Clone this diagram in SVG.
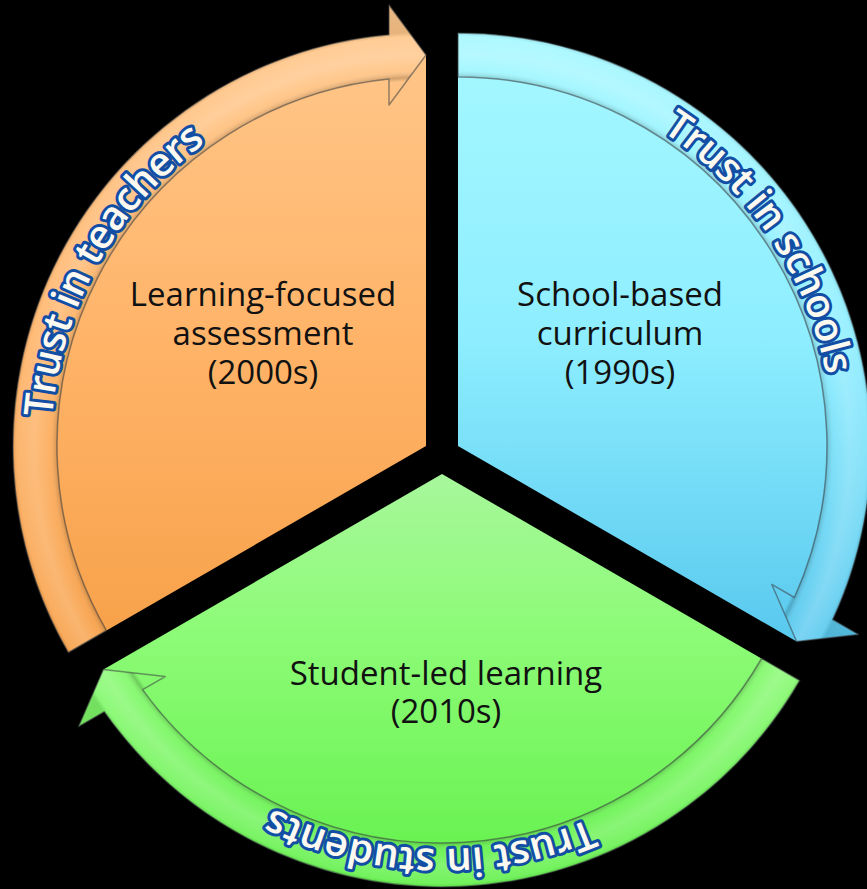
<svg xmlns="http://www.w3.org/2000/svg" xmlns:xlink="http://www.w3.org/1999/xlink" width="867" height="889" viewBox="0 0 867 889">
  <style>
    .label { font-family: "Open Sans", "Noto Sans", "Liberation Sans", sans-serif; font-size: 33px; fill: #111111; text-anchor: middle; }
    .arc-label { font-family: "Open Sans", "Noto Sans", "Liberation Sans", sans-serif; font-size: 40px; font-weight: 600; fill: #fbf9f0; stroke: #124ea3; stroke-width: 6; stroke-linejoin: round; paint-order: stroke; text-anchor: middle; }
    .bevel { stroke: #3c4044; stroke-opacity: 0.55; stroke-width: 1.5; stroke-linejoin: round; }
  </style>
  <defs>
    <linearGradient id="gO" gradientUnits="userSpaceOnUse" x1="0" y1="5" x2="0" y2="660">
      <stop offset="0" stop-color="#ffc98e"/>
      <stop offset="0.5" stop-color="#ffb469"/>
      <stop offset="1" stop-color="#f7a048"/>
    </linearGradient>
    <linearGradient id="gB" gradientUnits="userSpaceOnUse" x1="0" y1="30" x2="0" y2="645">
      <stop offset="0" stop-color="#a6f8ff"/>
      <stop offset="0.5" stop-color="#8eeeff"/>
      <stop offset="1" stop-color="#58c8ee"/>
    </linearGradient>
    <linearGradient id="gG" gradientUnits="userSpaceOnUse" x1="0" y1="470" x2="0" y2="889">
      <stop offset="0" stop-color="#a8f79c"/>
      <stop offset="0.4" stop-color="#8cfb76"/>
      <stop offset="1" stop-color="#62f04a"/>
    </linearGradient>
    <radialGradient id="sO" gradientUnits="userSpaceOnUse" cx="426" cy="446" r="445">
      <stop offset="0.82" stop-color="#000" stop-opacity="0"/>
      <stop offset="0.829" stop-color="#000" stop-opacity="0.18"/>
      <stop offset="0.845" stop-color="#fff" stop-opacity="0.05"/>
      <stop offset="0.88" stop-color="#fff" stop-opacity="0.2"/>
      <stop offset="0.92" stop-color="#fff" stop-opacity="0.1"/>
      <stop offset="0.93" stop-color="#000" stop-opacity="0.1"/>
      <stop offset="1" stop-color="#000" stop-opacity="0.08"/>
    </radialGradient>
    <radialGradient id="sB" href="#sO" cx="458" cy="446"/>
    <radialGradient id="sG" href="#sO" cx="442" cy="474"/>
    <path id="pO" d="M103.9,638 A375,375 0 0 1 420.76,71.04"/>
    <path id="pB" d="M431.84,71.91 A375,375 0 0 1 795.05,610.39"/>
    <path id="pG" d="M760.36,672.17 A375,375 0 0 1 111.23,650.68"/>
  </defs>

  <rect width="867" height="889" fill="#000000"/>

  <g id="node-orange">
    <path d="M426,446 L68.33,652.5 A413,413 0 0 1 389,34.7 L389,5 L426,55 Z" fill="url(#gO)"/>
    <text class="label" x="263" y="306">Learning-focused</text>
    <text class="label" x="263" y="345">assessment</text>
    <text class="label" x="263" y="384">(2000s)</text>
  </g>

  <g id="node-blue">
    <path d="M458,446 L458,33 A413,413 0 0 1 832.69,619.61 L858.41,634.46 L796.61,641.5 Z" fill="url(#gB)"/>
    <text class="label" x="620" y="306">School-based</text>
    <text class="label" x="620" y="345">curriculum</text>
    <text class="label" x="620" y="384">(1990s)</text>
  </g>

  <g id="node-green">
    <path d="M442,474 L799.67,680.5 A413,413 0 0 1 104.31,711.69 L78.59,726.54 L103.39,669.5 Z" fill="url(#gG)"/>
    <text class="label" x="446" y="685">Student-led learning</text>
    <text class="label" x="446" y="723">(2010s)</text>
  </g>

  <g id="connectors">
    <g id="arrow-teachers">
      <path class="bevel" fill="url(#sO)" d="M68.33,652.5 A413,413 0 0 1 389,34.7 L389,5 L426,55 L389,105 L389,78.9 A369,369 0 0 0 106.44,630.5 Z"/>
      <text class="arc-label"><textPath href="#pO" startOffset="50%">Trust in teachers</textPath></text>
    </g>
    <g id="arrow-schools">
      <path class="bevel" fill="url(#sB)" d="M458,33 A413,413 0 0 1 832.69,619.61 L858.41,634.46 L796.61,641.5 L771.81,584.46 L794.41,597.51 A369,369 0 0 0 458,77 Z"/>
      <text class="arc-label"><textPath href="#pB" startOffset="50%">Trust in schools</textPath></text>
    </g>
    <g id="arrow-students">
      <path class="bevel" fill="url(#sG)" d="M799.67,680.5 A413,413 0 0 1 104.31,711.69 L78.59,726.54 L103.39,669.5 L165.19,676.54 L142.59,689.59 A369,369 0 0 0 761.56,658.5 Z"/>
      <text class="arc-label"><textPath href="#pG" startOffset="50%">Trust in students</textPath></text>
    </g>
  </g>
</svg>
